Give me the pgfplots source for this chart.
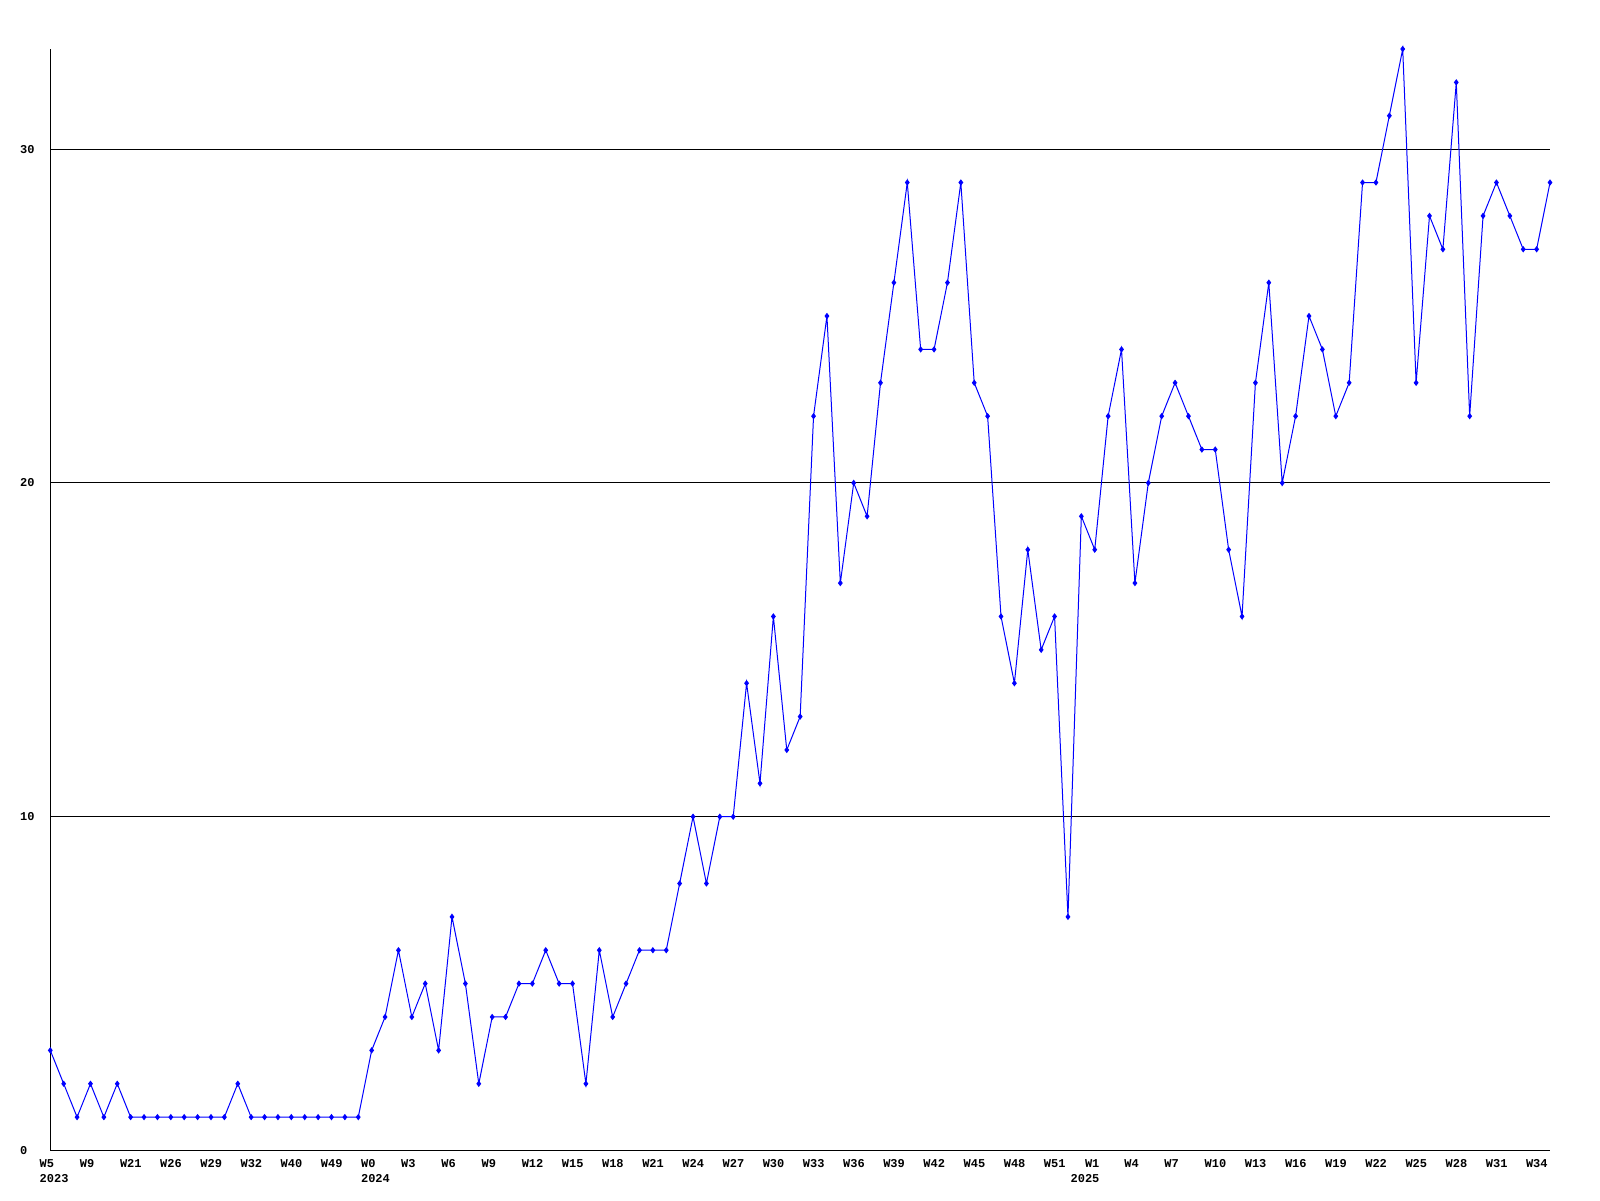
\documentclass[border=0pt]{standalone}
\usepackage{pgfplots}
\pgfplotsset{compat=1.18}
\usepackage{fontspec}
\newfontfamily\lmono{Liberation Mono}
\begin{document}
\begin{tikzpicture}
\begin{axis}[
  at={(25.15pt,24.75pt)}, anchor=south west,
  scale only axis, width=749.85pt, height=550.75pt,
  xmin=0, xmax=112, ymin=0, ymax=33,
  clip=false,
  axis x line*=bottom, axis y line*=left,
  axis line style={black, line width=0.6pt, -},
  major tick length=0pt,
  ytick={0,10,20,30},
  ymajorgrids, grid style={black, line width=0.5pt},
  xtick={0,3,...,111},
  xticklabels={{W5\\2023},W9,W21,W26,W29,W32,W40,W49,{W0\\2024},W3,W6,W9,W12,W15,W18,W21,W24,W27,W30,W33,W36,W39,W42,W45,W48,W51,{\hspace*{-6.75pt}\phantom{00}W1\\\hspace*{-6.75pt}2025},W4,W7,W10,W13,W16,W19,W22,W25,W28,W31,W34},
  /pgf/number format/assume math mode=true,
  tick label style={font=\lmono\bfseries\fontsize{6}{7.5}\selectfont, inner sep=0pt},
  xticklabel style={anchor=north west, align=left, xshift=-5.5pt, yshift=-4.5pt},
  yticklabel style={anchor=west, xshift=-15.25pt},
]
\addplot[color={rgb,255:red,0;green,0;blue,255}, line width=0.5pt, mark=diamond*, mark size=1.2pt, mark options={solid}] coordinates {
(0,3)(1,2)(2,1)(3,2)(4,1)(5,2)(6,1)(7,1)(8,1)(9,1)(10,1)(11,1)(12,1)(13,1)(14,2)
(15,1)(16,1)(17,1)(18,1)(19,1)(20,1)(21,1)(22,1)(23,1)(24,3)(25,4)(26,6)(27,4)(28,5)(29,3)
(30,7)(31,5)(32,2)(33,4)(34,4)(35,5)(36,5)(37,6)(38,5)(39,5)(40,2)(41,6)(42,4)(43,5)(44,6)
(45,6)(46,6)(47,8)(48,10)(49,8)(50,10)(51,10)(52,14)(53,11)(54,16)(55,12)(56,13)(57,22)(58,25)(59,17)
(60,20)(61,19)(62,23)(63,26)(64,29)(65,24)(66,24)(67,26)(68,29)(69,23)(70,22)(71,16)(72,14)(73,18)(74,15)
(75,16)(76,7)(77,19)(78,18)(79,22)(80,24)(81,17)(82,20)(83,22)(84,23)(85,22)(86,21)(87,21)(88,18)(89,16)
(90,23)(91,26)(92,20)(93,22)(94,25)(95,24)(96,22)(97,23)(98,29)(99,29)(100,31)(101,33)(102,23)(103,28)(104,27)
(105,32)(106,22)(107,28)(108,29)(109,28)(110,27)(111,27)(112,29)
};
\end{axis}
\pgfresetboundingbox
\path[use as bounding box] (0,0) rectangle (800pt,600pt);
\end{tikzpicture}
\end{document}
